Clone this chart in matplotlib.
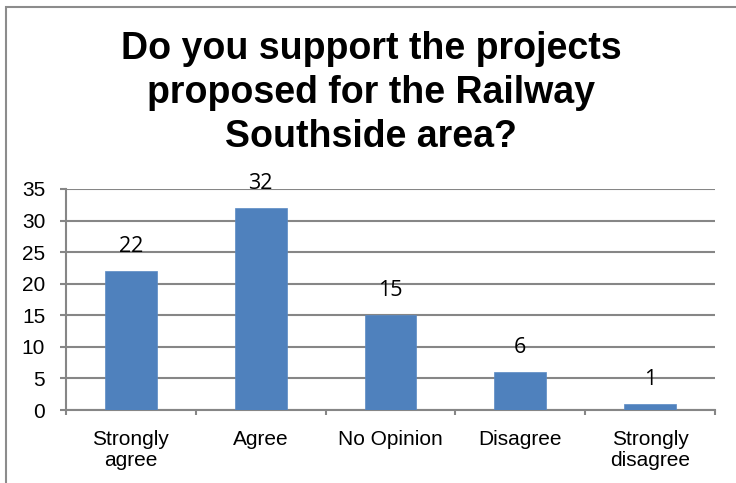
import matplotlib
matplotlib.use("Agg")
import matplotlib.pyplot as plt
from matplotlib.patches import Rectangle
import numpy as np

# survey answers
categories = ["Strongly\nagree", "Agree", "No Opinion", "Disagree", "Strongly\ndisagree"]
counts = [22, 32, 15, 6, 1]
yticks = [0, 5, 10, 15, 20, 25, 30, 35]

title = "Do you support the projects\nproposed for the Railway\nSouthside area?"

bar_color = "#4F81BD"
grid_color = "#868686"

plt.rcParams['font.family'] = ['Liberation Sans', 'DejaVu Sans']

fig = plt.figure(figsize=(7.36, 4.83), dpi=100)
ax = fig.add_axes([66/736, 73/483, 649/736, 221/483])

# outer chart border (runs off the right/bottom edge like the screenshot)
fig.patches.append(Rectangle((6.5/736, -0.05), 1.2, 1 - 6.5/483 + 0.05,
                             transform=fig.transFigure, fill=False,
                             edgecolor="#8c8c8c", linewidth=1.5))

x = np.arange(len(categories))
ax.bar(x, counts, width=0.4, color=bar_color, edgecolor="#5a8ac4", linewidth=0.5, zorder=3)

for xi, c in zip(x, counts):
    ax.text(xi, c + 3.0, str(c), ha='center', va='baseline', fontsize=15.5,
            family=['Open Sans', 'DejaVu Sans'])

ax.set_xlim(-0.5, len(categories) - 0.5)
ax.set_ylim(0, 35)
ax.set_yticks(yticks)
ax.yaxis.grid(True, color=grid_color, linewidth=1.5, zorder=0)
ax.set_axisbelow(True)

# category labels between boundary ticks
ax.set_xticks(np.arange(len(categories) + 1) - 0.5)
ax.set_xticklabels([])
ax.set_xticks(x, minor=True)
ax.set_xticklabels(categories, minor=True, fontsize=15, linespacing=1.1)
ax.tick_params(axis='x', which='minor', length=0, pad=14.5)
ax.tick_params(axis='x', which='major', length=3.6, width=1.5, color=grid_color, direction='out')
ax.tick_params(axis='y', length=4.5, width=1.5, color=grid_color, labelsize=15, pad=10.5)

for s in ['top', 'right']:
    ax.spines[s].set_visible(False)
for s in ['left', 'bottom']:
    ax.spines[s].set_color(grid_color)
    ax.spines[s].set_linewidth(1.5)

fig.text(371/736, 1 - 93/483, title, ha='center', va='center', fontsize=27,
         fontweight='bold', linespacing=1.27)

fig.savefig("out.png", dpi=100)
